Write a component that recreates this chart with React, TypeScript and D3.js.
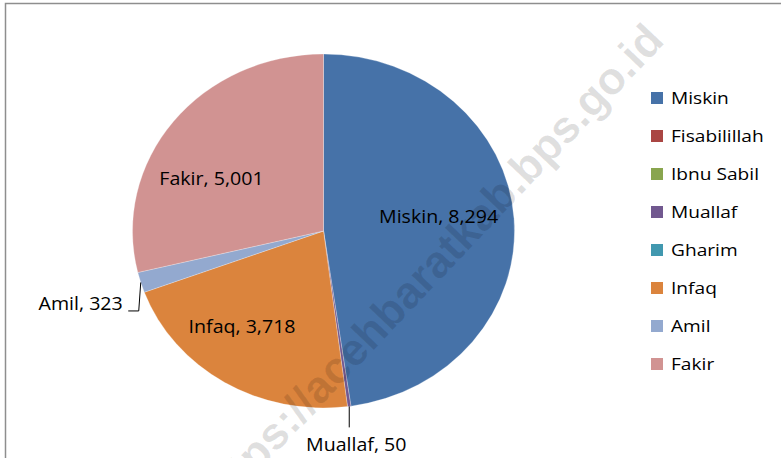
import React from "react";
import * as d3 from "d3";

// zakat distribution by asnaf
const categories = ["Miskin", "Fisabilillah", "Ibnu Sabil", "Muallaf", "Gharim", "Infaq", "Amil", "Fakir"];
const values = [8294, 0, 0, 50, 0, 3718, 323, 5001];
const colors = ["#4672a8", "#aa4643", "#89a54e", "#71588f", "#4198af", "#db843d", "#93a9cf", "#d19392"];
const outsideLabels = ["Muallaf", "Amil"];

const W = 781,
  H = 458;
const cx = 323.5,
  cy = 231,
  r = 191,
  squash = 177 / 191;

// small tweaks so the inside labels sit where Excel put them
const labelNudge = { Miskin: [-3, -6.5], Infaq: [-20, 2], Fakir: [-19, 15.6] };
const fmt = d3.format(",");

const labelFont = { family: "Open Sans", size: 18.5, stretch: 1.06 };
const legendFont = { family: "Open Sans", size: 16.5, stretch: 1.16 };

const App = () => {
  const slices = d3
    .pie<number>()
    .sort(null)
    .value((i) => values[i])
    .startAngle(0)(d3.range(categories.length));

  const arc = d3.arc<d3.PieArcDatum<number>>().innerRadius(0).outerRadius(r);
  const labelArc = d3
    .arc<d3.PieArcDatum<number>>()
    .innerRadius(r * 0.62)
    .outerRadius(r * 0.62);
  const edgeArc = d3.arc<d3.PieArcDatum<number>>().innerRadius(r).outerRadius(r);

  const toScreen = ([x, y]: [number, number]) => [cx + x, cy + y * squash];

  const legendY = d3
    .scalePoint<string>()
    .domain(categories)
    .range([98, 98 + 38 * (categories.length - 1)]);

  const txt = (key, x, y, s, anchor, font) => (
    <text
      key={key}
      transform={`translate(${x},${y}) scale(${font.stretch},1)`}
      textAnchor={anchor}
      fontFamily={font.family}
      fontSize={font.size}
      fill="#000"
    >
      {s}
    </text>
  );

  return (
    <svg width={W} height={H} style={{ position: "absolute", left: 0, top: 0, background: "#fff" }}>
      <rect x={5.5} y={3.5} width={W + 20} height={H + 20} fill="#fff" stroke="#8e8e8e" strokeWidth={1.5} />

      <g transform={`translate(${cx},${cy}) scale(1,${squash})`}>
        {slices
          .filter((d) => values[d.data] > 0)
          .map((d) => (
            <path
              key={categories[d.data]}
              d={arc(d)}
              fill={colors[d.data]}
              stroke="#fff"
              strokeOpacity={0.45}
              strokeWidth={0.6}
            />
          ))}
      </g>

      {slices
        .filter((d) => values[d.data] > 0 && !outsideLabels.includes(categories[d.data]))
        .map((d) => {
          const name = categories[d.data];
          const [x, y] = toScreen(labelArc.centroid(d));
          const [nx, ny] = labelNudge[name] || [0, 0];
          return txt(name, x + nx, y + ny + labelFont.size * 0.36, `${name}, ${fmt(values[d.data])}`, "middle", labelFont);
        })}

      {slices
        .filter((d) => outsideLabels.includes(categories[d.data]))
        .map((d) => {
          const name = categories[d.data];
          const [ex, ey] = toScreen(edgeArc.centroid(d));
          const s = `${name}, ${fmt(values[d.data])}`;
          if (name === "Muallaf") {
            return (
              <g key={name}>
                <line x1={ex} y1={ey} x2={ex} y2={ey + 21} stroke="#000" strokeWidth={1} />
                {txt(name + "t", ex + 7, ey + 45, s, "middle", labelFont)}
              </g>
            );
          }
          const elbow = [ex - 2, ey + 28.5];
          return (
            <g key={name}>
              <polyline
                points={`${ex},${ey} ${elbow[0]},${elbow[1]} ${elbow[0] - 10.5},${elbow[1]}`}
                fill="none"
                stroke="#000"
                strokeWidth={1}
              />
              {txt(name + "t", elbow[0] - 16, elbow[1] - 1, s, "end", labelFont)}
            </g>
          );
        })}

      <g>
        {categories.map((c, i) => (
          <g key={c}>
            <rect x={651} y={legendY(c) - 6} width={12} height={12} fill={colors[i]} />
            {txt(c + "l", 671, legendY(c) + 6, c, "start", legendFont)}
          </g>
        ))}
      </g>

      <text
        transform="translate(666,42) rotate(-46.5)"
        textAnchor="end"
        fontFamily="Liberation Sans"
        fontWeight="bold"
        fontSize={45}
        fill="#000"
        fillOpacity={0.12}
      >
        https://acehbaratkab.bps.go.id
      </text>
    </svg>
  );
};

export default App;
